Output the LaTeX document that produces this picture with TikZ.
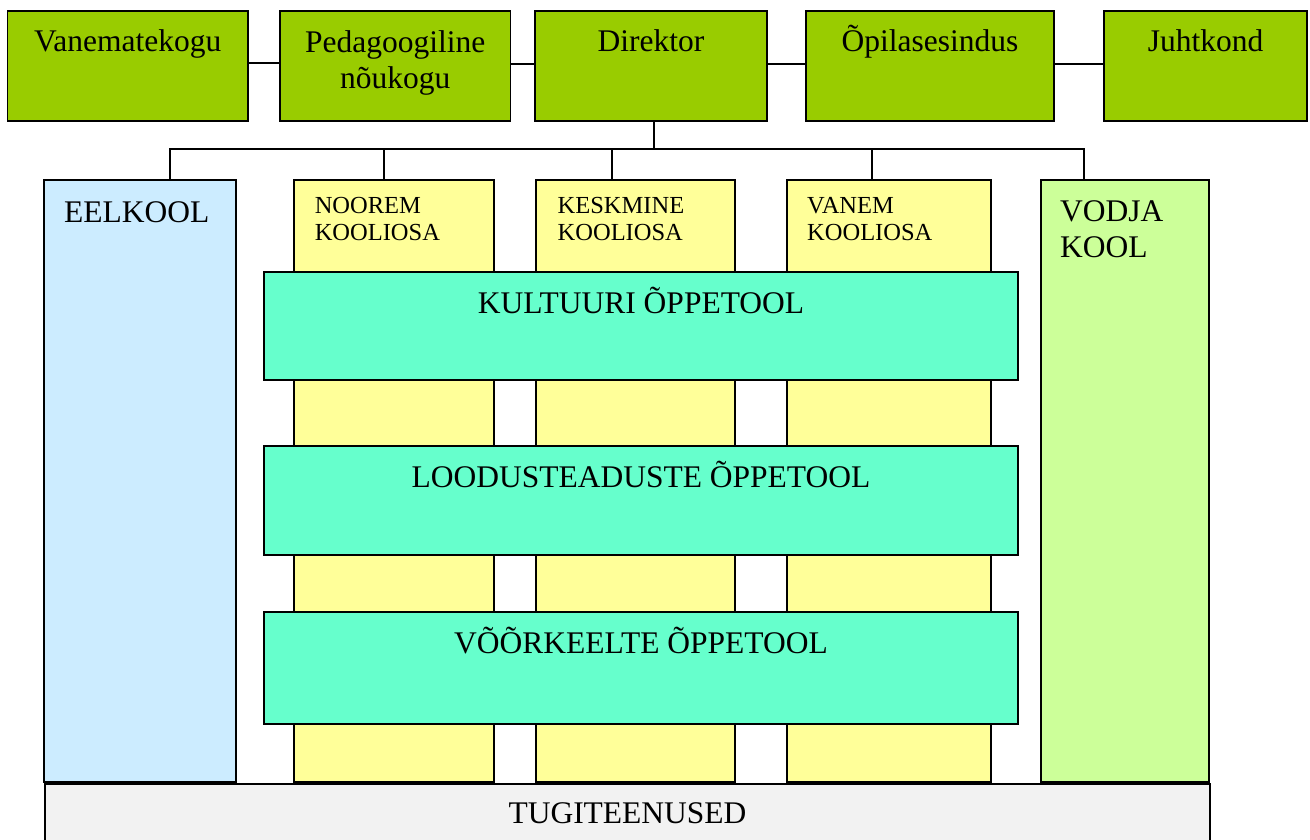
\documentclass[tikz,border=0pt]{standalone}
\usepackage{fontspec}
\setmainfont{Liberation Serif}
\begin{document}
\begin{tikzpicture}[x=1pt,y=1pt,yscale=-1,xscale=1,
  box/.style={draw, line width=1.5, inner sep=0pt, minimum width=#1},
  topbox/.style={box=#1, minimum height=110, fill={rgb, 255:red, 153; green, 204; blue, 0 }},
  partbox/.style={box=#1, minimum height=602, fill={rgb, 255:red, 255; green, 255; blue, 153 }},
  bandbox/.style={box=754, fill={rgb, 255:red, 102; green, 255; blue, 204 }},
  bigtext/.style={inner sep=0pt, font=\fontsize{31.5}{36}\selectfont},
  smalltext/.style={inner sep=0pt, align=left, font=\fontsize{24.5}{27}\selectfont},
  link/.style={line width=1.4}]
\useasboundingbox (0,0) rectangle (1310,839);
\clip (0,0) rectangle (1310,839);

% top row
\draw (127.8,66) node [topbox=240.4] (vanem) {};
\draw (395.2,66) node [topbox=230.5] (pedag) {};
\draw (651,66) node [topbox=232] (direktor) {};
\draw (930,66) node [topbox=248] (opil) {};
\draw (1205.5,66) node [topbox=203] (juht) {};

\draw [link] ([yshift=-3pt]vanem.east) -- ([yshift=-3pt]pedag.west);
\draw [link] ([yshift=-2pt]pedag.east) -- ([yshift=-2pt]direktor.west);
\draw [link] ([yshift=-2pt]direktor.east) -- ([yshift=-2pt]opil.west);
\draw [link] ([yshift=-2pt]opil.east) -- ([yshift=-2pt]juht.west);

% columns
\draw (140,481) node [box=192, minimum height=602, fill={rgb, 255:red, 204; green, 236; blue, 255 }] (eelkool) {};
\draw (394,481) node [partbox=200] (noorem) {};
\draw (635.5,481) node [partbox=199] (keskmine) {};
\draw (889,481) node [partbox=204] (vanemk) {};
\draw (1125,481) node [box=168, minimum height=602, fill={rgb, 255:red, 204; green, 255; blue, 153 }] (vodja) {};

% bus from Direktor
\coordinate (busL) at (170,149);
\coordinate (busR) at (1084,149);
\coordinate (d1) at (384,149);
\coordinate (d2) at (612,149);
\coordinate (d3) at (872,149);
\coordinate (d0) at (654,149);
\draw [link] (d0 |- direktor.south) -- (d0);
\draw [link] (busL |- eelkool.north) -- (busL) -- (busR) -- (busR |- vodja.north);
\draw [link] (d1) -- (d1 |- noorem.north);
\draw [link] (d2) -- (d2 |- keskmine.north);
\draw [link] (d3) -- (d3 |- vanemk.north);

% subject bands
\draw (641,326) node [bandbox, minimum height=108] (kultuur) {};
\draw (641,500.5) node [bandbox, minimum height=109] (loodus) {};
\draw (641,668) node [bandbox, minimum height=112] (voor) {};

% support services
\draw (627.5,815) node [box=1165, minimum height=62, fill={rgb, 255:red, 242; green, 242; blue, 242 }] (tugi) {};

% Text Node
\draw (127.8,51.7) node [bigtext, anchor=base] (tvanem) {Vanematekogu};
\draw (395.2,88) node [bigtext, anchor=base, align=center] (tpedag) {Pedagoogiline\\nõukogu};
\draw (651,51.7) node [bigtext, anchor=base] (tdirektor) {Direktor};
\draw (930,51.7) node [bigtext, anchor=base] (topil) {Õpilasesindus};
\draw (1205.5,51.7) node [bigtext, anchor=base] (tjuht) {Juhtkond};
% Text Node
\draw (64,222) node [bigtext, anchor=base west] (teelkool) {EELKOOL};
\draw (314.6,240.3) node [smalltext, anchor=base west] (tnoorem) {NOOREM\\KOOLIOSA};
\draw (557.5,240.3) node [smalltext, anchor=base west] (tkeskmine) {KESKMINE\\KOOLIOSA};
\draw (807,240.3) node [smalltext, anchor=base west] (tvanemk) {VANEM\\KOOLIOSA};
\draw (1060,257) node [bigtext, anchor=base west, align=left] (tvodja) {VODJA\\KOOL};
% Text Node
\draw (641,313) node [bigtext, anchor=base] (tkultuur) {KULTUURI ÕPPETOOL};
\draw (641,487) node [bigtext, anchor=base] (tloodus) {LOODUSTEADUSTE ÕPPETOOL};
\draw (641,653) node [bigtext, anchor=base] (tvoor) {VÕÕRKEELTE ÕPPETOOL};
\draw (627.5,823) node [bigtext, anchor=base] (ttugi) {TUGITEENUSED};
\end{tikzpicture}
\end{document}
